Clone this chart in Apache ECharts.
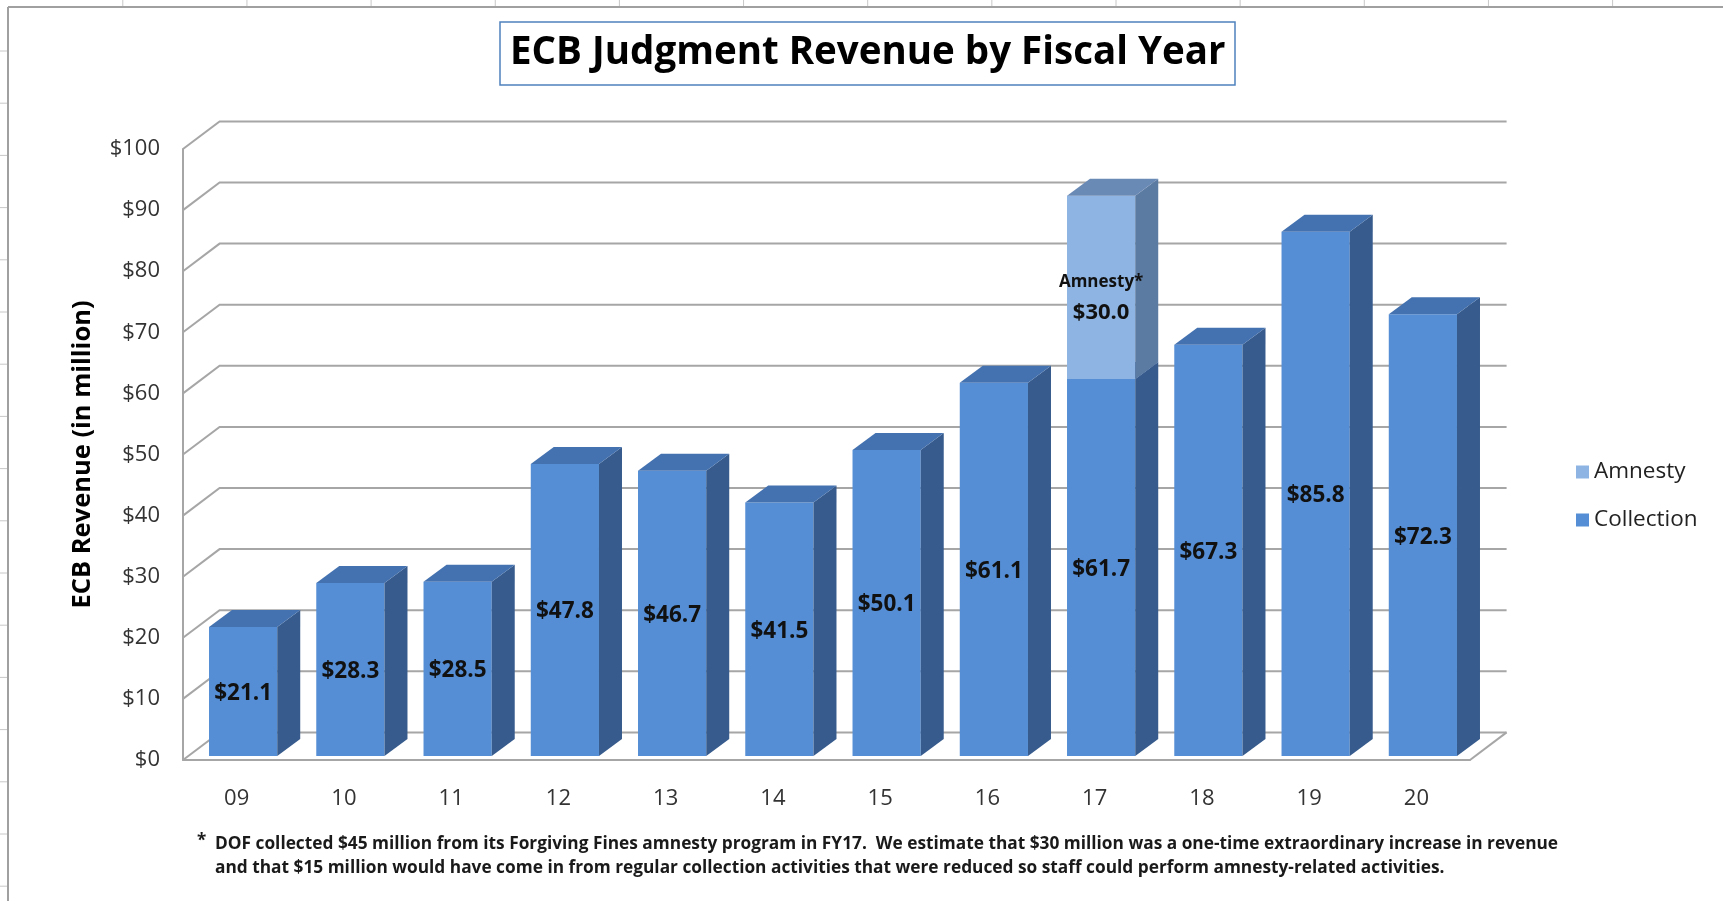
<!DOCTYPE html>
<html>
<head>
<meta charset="utf-8">
<title>ECB Judgment Revenue by Fiscal Year</title>
<script src="https://cdn.jsdelivr.net/npm/echarts@6/dist/echarts.min.js"></script>
<style>
  html, body { margin: 0; padding: 0; background: #fff; }
  #chart { width: 1723px; height: 901px; }
</style>
</head>
<body>
<div id="chart"></div>
<script>
// revenue in $ million, by fiscal year
const years = ['09', '10', '11', '12', '13', '14', '15', '16', '17', '18', '19', '20'];
const collection = [21.1, 28.3, 28.5, 47.8, 46.7, 41.5, 50.1, 61.1, 61.7, 67.3, 85.8, 72.3];
const amnesty = [null, null, null, null, null, null, null, null, 30.0, null, null, null];
const yTicks = [0, 10, 20, 30, 40, 50, 60, 70, 80, 90, 100];
const footnote = [
  'DOF collected $45 million from its Forgiving Fines amnesty program in FY17.  We estimate that $30 million was a one-time extraordinary increase in revenue',
  'and that $15 million would have come in from regular collection activities that were reduced so staff could perform amnesty-related activities.'
];

const FONT = "'Open Sans', sans-serif";
// fake 3d: offsets in px
const WALL = [36.6, -27.6];
const BAR_SHIFT = [6.5, -4];
const BAR_DEPTH = [23, -17];
const BAR_RATIO = 0.636;
const GRID_COLOR = '#a6a6a6';

const colors = {
  Collection: { front: '#558ed5', side: '#365b8c', top: '#4472b0' },
  Amnesty: { front: '#8db4e2', side: '#5c7ba2', top: '#6a8ab6' }
};

function barItem(name) {
  const c = colors[name];
  return function (params, api) {
    const i = api.value(0);
    const base = api.value(1);
    const top = api.value(2);
    const lo = api.coord([i, base]);
    const hi = api.coord([i, top]);
    const w = api.size([1, 0])[0] * BAR_RATIO;
    const x0 = lo[0] - w / 2 + BAR_SHIFT[0];
    const x1 = x0 + w;
    const y0 = lo[1] + BAR_SHIFT[1];
    const y1 = hi[1] + BAR_SHIFT[1];
    const dx = BAR_DEPTH[0], dy = BAR_DEPTH[1];
    const val = '$' + (top - base).toFixed(1);
    const label = name === 'Amnesty'
      ? { text: '{a|Amnesty*}\n{b|' + val + '}', rich: {
            a: { fontSize: 17, fontWeight: 'bold', fontFamily: FONT, fill: '#111', lineHeight: 30 },
            b: { fontSize: 22, fontWeight: 'bold', fontFamily: FONT, fill: '#111', lineHeight: 30 } } }
      : { text: val, font: 'bold 22.5px ' + FONT };
    return {
      type: 'group',
      children: [
        { type: 'polygon', shape: { points: [[x0, y1], [x1, y1], [x1, y0], [x0, y0]] }, style: { fill: c.front } },
        { type: 'polygon', shape: { points: [[x1, y1], [x1 + dx, y1 + dy], [x1 + dx, y0 + dy], [x1, y0]] }, style: { fill: c.side } },
        { type: 'polygon', shape: { points: [[x0, y1], [x0 + dx, y1 + dy], [x1 + dx, y1 + dy], [x1, y1]] }, style: { fill: c.top } },
        {
          type: 'text',
          style: Object.assign({
            x: (x0 + x1) / 2, y: (y0 + y1) / 2 + (name === 'Amnesty' ? 10 : 2),
            align: 'center', verticalAlign: 'middle', fill: '#111'
          }, label)
        }
      ]
    };
  };
}

// back wall, left wall diagonals and floor edge
function frameItem(params, api) {
  const cs = params.coordSys;
  const v = api.value(1);
  const y = api.coord([0, v])[1];
  const x0 = cs.x, x1 = cs.x + cs.width;
  const children = [{
    type: 'polyline',
    shape: { points: [[x0, y], [x0 + WALL[0], y + WALL[1]], [x1 + WALL[0], y + WALL[1]]] },
    style: { stroke: GRID_COLOR, lineWidth: 2, fill: null }
  }];
  if (v === 0) {
    children.push({
      type: 'line',
      shape: { x1: x1, y1: y, x2: x1 + WALL[0], y2: y + WALL[1] },
      style: { stroke: GRID_COLOR, lineWidth: 2 }
    });
  }
  return { type: 'group', children: children };
}

// sheet border with column/row marks
const sheetMarks = [
  { type: 'line', shape: { x1: 8, y1: 7, x2: 1723, y2: 7 }, style: { stroke: '#a0a0a0', lineWidth: 2 } },
  { type: 'line', shape: { x1: 8, y1: 7, x2: 8, y2: 901 }, style: { stroke: '#a0a0a0', lineWidth: 2 } }
];
for (let x = 122.8; x < 1723; x += 124.15) {
  sheetMarks.push({ type: 'line', shape: { x1: x, y1: 0, x2: x, y2: 6 }, style: { stroke: '#c8c8c8', lineWidth: 1 } });
}
for (let y = 51; y < 901; y += 52.2) {
  sheetMarks.push({ type: 'line', shape: { x1: 0, y1: y, x2: 7, y2: y }, style: { stroke: '#c8c8c8', lineWidth: 1 } });
}

const chart = echarts.init(document.getElementById('chart'));

chart.setOption({
  backgroundColor: '#fff',
  animation: false,
  title: {
    text: 'ECB Judgment Revenue by Fiscal Year',
    left: 500,
    top: 22,
    padding: [12, 10],
    borderColor: '#4f81bd',
    borderWidth: 1.5,
    textStyle: { fontFamily: FONT, fontSize: 38.5, fontWeight: 'bold', color: '#000' }
  },
  legend: {
    orient: 'vertical',
    left: 1576,
    top: 458,
    padding: 0,
    itemWidth: 13,
    itemHeight: 13,
    itemGap: 20,
    icon: 'rect',
    data: ['Amnesty', 'Collection'],
    textStyle: { fontFamily: FONT, fontSize: 22.5, lineHeight: 28, color: '#222' }
  },
  grid: { left: 183, right: 253, top: 149, bottom: 141, outerBoundsMode: 'none' },
  xAxis: {
    type: 'category',
    data: years,
    axisTick: { show: false },
    axisLine: { lineStyle: { color: GRID_COLOR, width: 2 } },
    axisLabel: { margin: 28, fontFamily: FONT, fontSize: 22, color: '#333' }
  },
  yAxis: {
    type: 'value',
    min: 0,
    max: 100,
    interval: 10,
    name: 'ECB Revenue (in million)',
    nameLocation: 'middle',
    nameRotate: 90,
    nameGap: 87,
    nameTextStyle: { fontFamily: FONT, fontSize: 25.5, fontWeight: 'bold', color: '#000' },
    axisLine: { show: true, lineStyle: { color: GRID_COLOR, width: 2 } },
    axisTick: { show: false },
    splitLine: { show: false },
    axisLabel: { margin: 23, fontFamily: FONT, fontSize: 22, color: '#333', formatter: '${value}' }
  },
  series: [
    {
      type: 'custom',
      name: 'frame',
      z: 1,
      silent: true,
      renderItem: frameItem,
      encode: { x: 0, y: 1 },
      data: yTicks.map(v => [0, v])
    },
    {
      type: 'custom',
      name: 'Collection',
      z: 2,
      itemStyle: { color: colors.Collection.front },
      renderItem: barItem('Collection'),
      encode: { x: 0, y: [1, 2] },
      data: years.map((y, i) => [i, 0, collection[i]])
    },
    {
      type: 'custom',
      name: 'Amnesty',
      z: 3,
      itemStyle: { color: colors.Amnesty.front },
      renderItem: barItem('Amnesty'),
      encode: { x: 0, y: [1, 2] },
      data: years.map((y, i) => [i, collection[i], amnesty[i]])
        .filter(d => d[2] != null)
        .map(d => [d[0], d[1], d[1] + d[2]])
    }
  ],
  graphic: sheetMarks.concat([
    { type: 'text', left: 197, top: 833, style: { text: '*', font: 'bold 17px ' + FONT, fill: '#1a1a1a' } },
    {
      type: 'text', left: 215, top: 832,
      style: { text: footnote.join('\n'), font: 'bold 17.3px ' + FONT, lineHeight: 24, fill: '#1a1a1a' }
    }
  ])
});
</script>
</body>
</html>
